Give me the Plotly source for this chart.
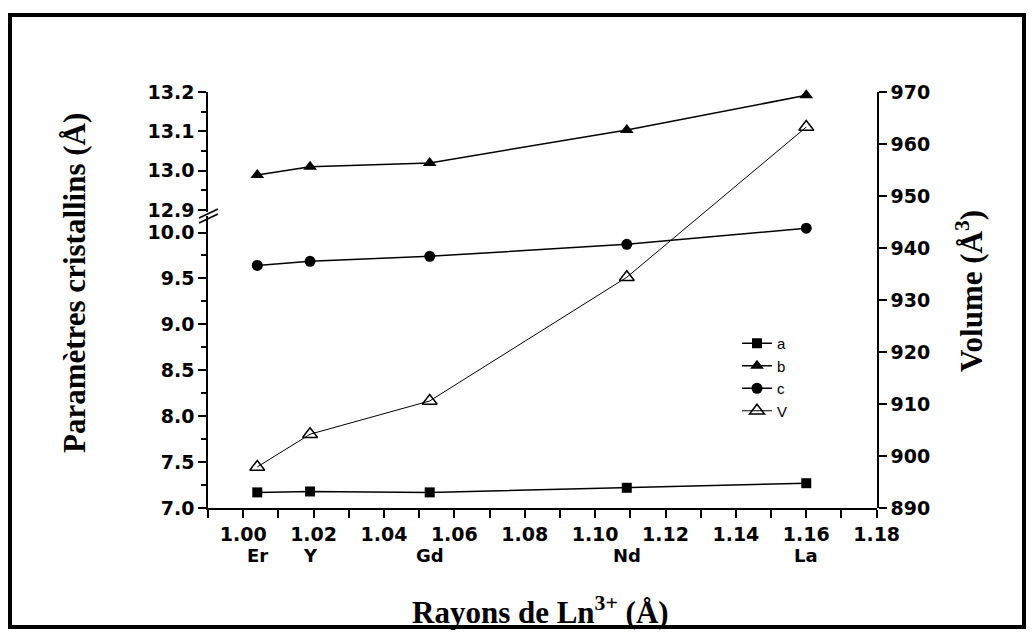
import plotly.graph_objects as go

# Ionic radii of Ln3+ (Å) and element labels
radius = [1.004, 1.019, 1.053, 1.109, 1.160]
element = ["Er", "Y", "Gd", "Nd", "La"]

# lattice parameters (Å)
a_param = [7.17, 7.18, 7.17, 7.22, 7.27]
b_param = [12.989, 13.010, 13.020, 13.104, 13.192]
c_param = [9.642, 9.686, 9.741, 9.872, 10.047]
# cell volume (Å^3)
volume = [897.9, 904.2, 910.6, 934.4, 963.3]

# page body has an 8px margin, so the figure starts at (8, 8) on screen
OFF = 8
W, H = 1018, 623
X0, X1, Y0, Y1 = 208, 877, 92, 508  # plot area in screen pixels
PW, PH = X1 - X0, Y1 - Y0


def px(x):
    return (x - X0) / PW


def py(y):
    return (Y1 - y) / PH


TICK_FONT = dict(family="DejaVu Sans", size=19, color="black", weight="bold")
NAME_FONT = dict(family="DejaVu Sans", size=18, color="black", weight="bold")
TITLE_FONT = dict(family="Liberation Serif", size=31, color="black", weight="bold")

# broken left axis: lower part 7.0-10.18, upper part 12.895-13.2
low_top = 216
up_bottom = 212

fig = go.Figure()

fig.add_trace(go.Scatter(
    x=radius, y=a_param, name="a", mode="lines+markers", cliponaxis=False,
    line=dict(color="black", width=1.5),
    marker=dict(symbol="square", size=10, color="black"),
    xaxis="x", yaxis="y",
))
fig.add_trace(go.Scatter(
    x=radius, y=b_param, name="b", mode="lines+markers", cliponaxis=False,
    line=dict(color="black", width=1.5),
    marker=dict(symbol="triangle-up", size=12, color="black"),
    xaxis="x", yaxis="y3",
))
fig.add_trace(go.Scatter(
    x=radius, y=c_param, name="c", mode="lines+markers", cliponaxis=False,
    line=dict(color="black", width=1.5),
    marker=dict(symbol="circle", size=11, color="black"),
    xaxis="x", yaxis="y",
))
fig.add_trace(go.Scatter(
    x=radius, y=volume, name="V", mode="lines+markers", cliponaxis=False,
    line=dict(color="black", width=1),
    marker=dict(symbol="triangle-up-open", size=13, color="black",
                line=dict(width=1.5, color="black")),
    xaxis="x", yaxis="y2",
))

axis_common = dict(
    showline=True, linecolor="black", linewidth=1.5, mirror=False,
    showgrid=False, zeroline=False, ticks="outside", ticklen=8,
    tickwidth=1.5, tickcolor="black", tickfont=TICK_FONT,
)

fig.update_layout(
    width=W, height=H,
    margin=dict(l=X0 - OFF, r=OFF + W - X1, t=Y0 - OFF, b=OFF + H - Y1),
    paper_bgcolor="white",
    plot_bgcolor="rgba(0,0,0,0)",
    xaxis=dict(
        range=[0.99, 1.1801], tick0=1.0, dtick=0.02, tickformat=".2f",
        minor=dict(dtick=0.01, ticks="outside", ticklen=8, tickcolor="black",
                   tickwidth=1.5, showgrid=False),
        ticklabelstandoff=0,
        anchor="y",
        **axis_common,
    ),
    yaxis=dict(
        domain=[0, py(low_top)], range=[7.0, 10.18], tick0=7.0, dtick=0.5,
        tickformat=".1f",
        minor=dict(dtick=0.25, ticks="outside", ticklen=5, tickcolor="black",
                   tickwidth=1.5, showgrid=False),
        anchor="x",
        **axis_common,
    ),
    yaxis3=dict(
        domain=[py(up_bottom), 1], range=[12.895, 13.2005], tick0=12.9,
        dtick=0.1, tickformat=".1f",
        minor=dict(dtick=0.05, ticks="outside", ticklen=5, tickcolor="black",
                   tickwidth=1.5, showgrid=False),
        anchor="x",
        **axis_common,
    ),
    yaxis2=dict(
        domain=[0, 1], range=[890, 970.05], dtick=10, side="right",
        anchor="x",
        **axis_common,
    ),
    legend=dict(
        x=px(737), y=py(327), xanchor="left", yanchor="top",
        bgcolor="rgba(0,0,0,0)",
        font=dict(family="Liberation Sans", size=15, color="black"),
        itemwidth=30, tracegroupgap=0,
    ),
    showlegend=True,
)

# element names under the radius tick labels
for xv, name in zip(radius, element):
    fig.add_annotation(
        x=xv, y=py(555), xref="x", yref="paper", text=name,
        showarrow=False, font=NAME_FONT, xanchor="center", yanchor="middle",
    )

# axis titles
fig.add_annotation(
    x=px(540), y=py(610), xref="paper", yref="paper",
    text="Rayons de Ln<sup>3+</sup> (Å)", showarrow=False, font=TITLE_FONT,
    xanchor="center", yanchor="middle",
)
fig.add_annotation(
    x=px(74), y=py(283), xref="paper", yref="paper",
    text="Paramètres cristallins (Å)", showarrow=False, font=TITLE_FONT,
    textangle=-90, xanchor="center", yanchor="middle",
)
fig.add_annotation(
    x=px(969), y=py(291), xref="paper", yref="paper",
    text="Volume (Å<sup>3</sup>)", showarrow=False, font=TITLE_FONT,
    textangle=-90, xanchor="center", yanchor="middle",
)

# axis break marks
for dy in (0, 5):
    fig.add_shape(
        type="line", xref="paper", yref="paper",
        x0=px(199), y0=py(218 + dy), x1=px(218), y1=py(209 + dy),
        line=dict(color="black", width=1.5),
    )

# outer frame
fig.add_shape(
    type="rect", xref="paper", yref="paper",
    x0=px(10), y0=py(627), x1=px(1024), y1=py(15),
    line=dict(color="black", width=4),
)

fig.write_html("out.html")
